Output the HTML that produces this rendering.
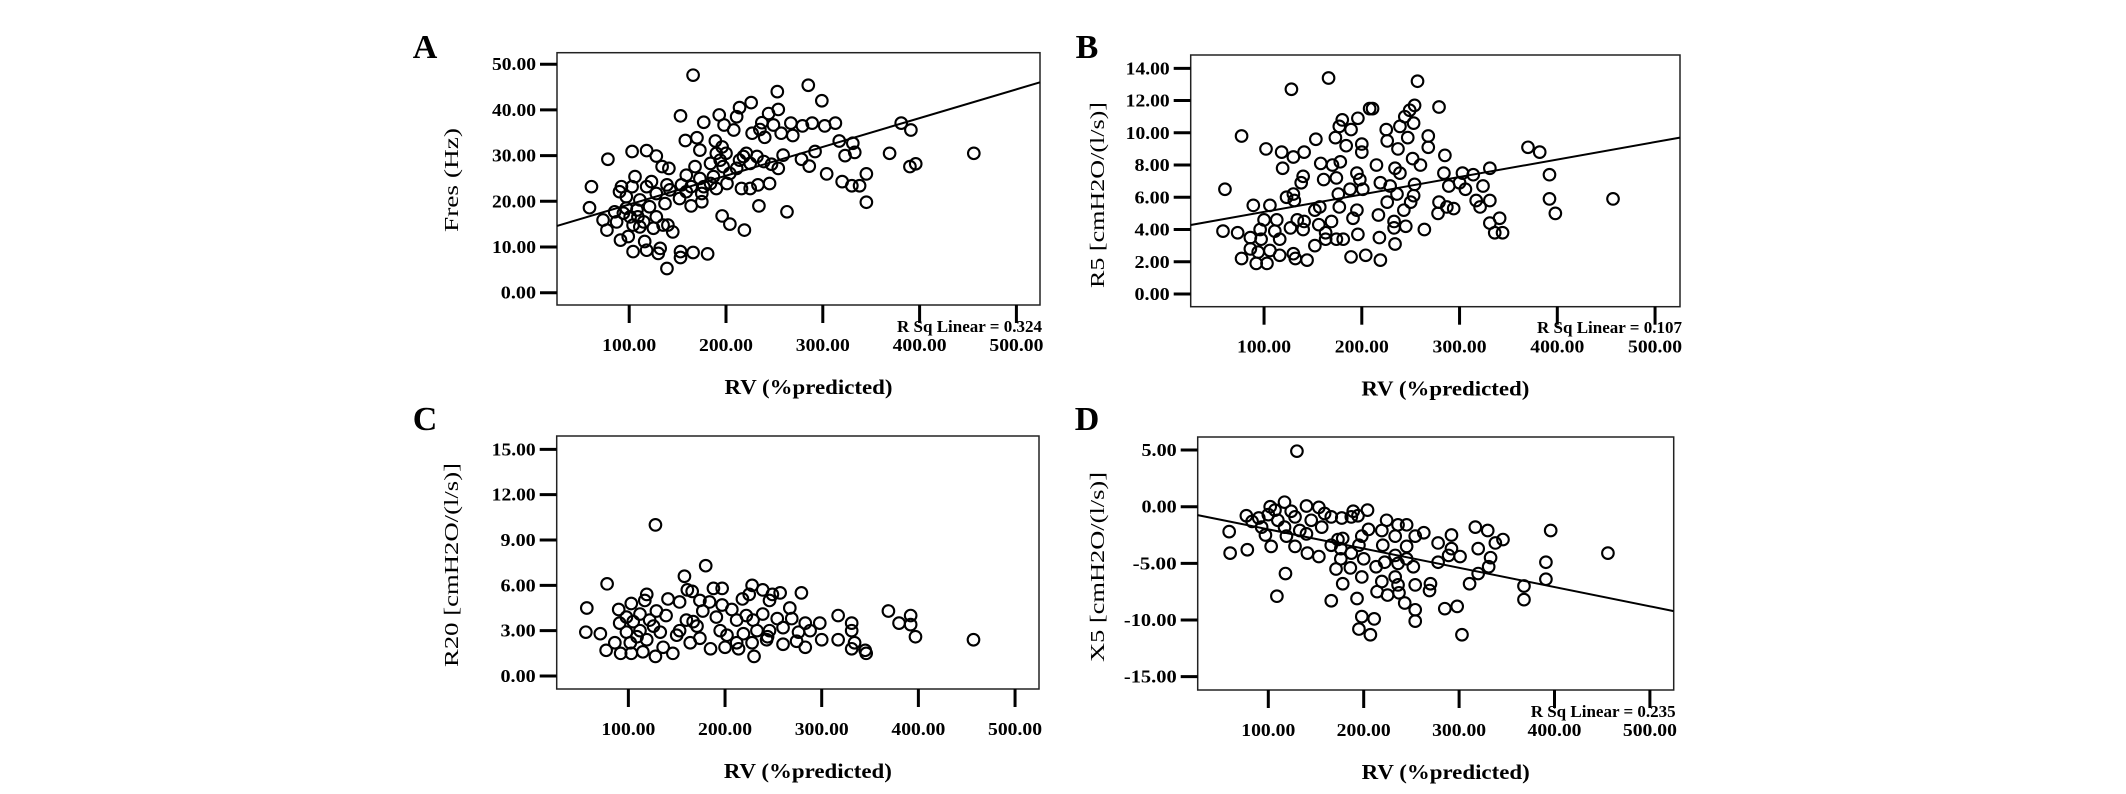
<!DOCTYPE html>
<html><head><meta charset="utf-8"><style>
html,body{margin:0;padding:0;background:#fff;}
svg{display:block;}
text{font-family:"Liberation Serif",serif;font-weight:bold;fill:#000;}
text.yt{font-weight:normal;}
</style></head>
<body>
<svg id="fig" width="2126" height="794" viewBox="0 0 2126 794" xmlns="http://www.w3.org/2000/svg"></svg>
<script>
const xTicks = [100, 200, 300, 400, 500];
const aYTicks = [0, 10, 20, 30, 40, 50];
const bYTicks = [0, 2, 4, 6, 8, 10, 12, 14];
const cYTicks = [0, 3, 6, 9, 12, 15];
const dYTicks = [-15, -10, -5, 0, 5];
const aFit = [13.0, 0.063];
const bFit = [4.01, 0.01083];
const dFit = [-0.30, -0.01698];
const aX = [166,285,253,299,226,214,254,153,193,177,244,211,198,237,249,267,279,289,302,313,381,391,208,227,235,257,269,170,158,189,240,317,331,103,118,78,128,173,196,200,218,232,259,278,292,323,333,369,456,134,141,168,184,197,211,225,239,247,254,286,390,396,106,123,139,159,173,187,201,304,320,345,330,338,61,92,103,118,154,164,177,190,216,225,233,245,90,128,152,175,59,85,97,108,121,137,164,175,234,263,345,73,87,101,115,128,140,196,204,77,104,125,145,219,91,99,116,104,118,132,130,153,153,166,181,139,190,194,214,221,97,111,142,159,184,204,94,109,135,111];
const aY = [47.6,45.4,44.0,42.0,41.6,40.5,40.1,38.7,38.9,37.3,39.2,38.5,36.7,37.2,36.7,37.1,36.5,37.1,36.5,37.1,37.1,35.6,35.6,34.9,35.7,34.9,34.4,33.9,33.3,33.2,34.0,33.2,32.7,30.9,31.1,29.2,29.9,31.2,31.9,30.5,29.8,29.8,30.1,29.2,30.9,30.0,30.7,30.5,30.5,27.6,27.2,27.6,28.3,27.6,27.2,28.3,28.7,28.1,27.2,27.7,27.6,28.2,25.4,24.3,23.6,25.7,25.0,25.4,23.9,26.0,24.3,26.0,23.4,23.4,23.2,23.2,23.2,23.2,23.6,23.2,23.2,22.8,22.8,22.8,23.6,23.9,22.1,21.7,20.6,21.7,18.6,17.7,18.5,18.1,18.8,19.5,19.0,19.9,19.0,17.7,19.8,15.9,15.5,16.6,15.5,16.6,14.8,16.8,15.0,13.7,14.8,14.1,13.3,13.7,11.5,12.3,11.2,9.0,9.3,9.7,8.6,9.0,7.7,8.8,8.5,5.3,30.5,29.0,29.0,30.5,21.0,20.3,22.5,22.1,23.9,26.1,17.4,16.6,14.8,14.4];
const bX = [166,257,128,208,211,254,249,279,180,196,244,177,189,239,253,225,77,173,226,247,268,153,184,200,268,370,382,102,118,130,141,200,237,285,252,119,158,170,178,215,260,392,140,161,195,234,239,284,303,314,331,60,138,174,188,198,219,229,254,289,300,306,324,176,201,236,253,130,123,89,106,131,157,177,226,250,279,317,331,392,457,287,294,321,243,195,152,278,398,100,113,134,141,169,191,217,233,341,58,73,96,111,127,140,156,163,233,245,264,331,336,344,86,97,116,174,181,218,196,86,94,106,130,152,163,234,77,92,103,116,132,144,189,204,219];
const bY = [13.4,13.2,12.7,11.5,11.5,11.7,11.4,11.6,10.8,10.9,11.0,10.4,10.2,10.4,10.6,10.2,9.8,9.7,9.5,9.7,9.8,9.6,9.2,9.3,9.1,9.1,8.8,9.0,8.8,8.5,8.8,8.8,9.0,8.6,8.4,7.8,8.1,8.0,8.2,8.0,8.0,7.4,7.3,7.1,7.5,7.8,7.5,7.5,7.5,7.4,7.8,6.5,6.9,7.2,6.5,7.1,6.9,6.7,6.8,6.7,6.9,6.5,6.7,6.2,6.5,6.2,6.1,6.2,6.0,5.5,5.5,5.8,5.4,5.4,5.7,5.7,5.7,5.8,5.8,5.9,5.9,5.4,5.3,5.4,5.2,5.2,5.2,5.0,5.0,4.6,4.6,4.6,4.5,4.5,4.7,4.9,4.5,4.7,3.9,3.8,4.0,3.9,4.1,4.0,4.3,3.8,4.1,4.2,4.0,4.4,3.8,3.8,3.5,3.4,3.4,3.4,3.4,3.5,3.7,2.8,2.6,2.7,2.5,3.0,3.4,3.1,2.2,1.9,1.9,2.4,2.2,2.1,2.3,2.4,2.1];
const cX = [128,180,158,78,161,166,188,197,228,239,279,119,249,257,57,90,103,117,141,153,174,184,197,218,225,246,267,369,129,139,177,207,222,239,254,269,317,392,91,105,122,160,167,191,212,229,283,298,331,380,392,56,71,98,112,133,150,171,195,202,219,233,246,260,276,288,331,397,86,102,119,136,164,174,185,200,214,228,244,260,274,283,300,317,334,457,77,92,103,115,128,146,230,331,345,346,109,126,153,212,243,98,112];
const cY = [10.0,7.3,6.6,6.1,5.7,5.6,5.8,5.8,6.0,5.7,5.5,5.4,5.4,5.5,4.5,4.4,4.8,5.0,5.1,4.9,5.0,4.9,4.7,5.1,5.4,5.0,4.5,4.3,4.3,4.0,4.3,4.4,4.0,4.1,3.8,3.8,4.0,4.0,3.5,3.6,3.7,3.7,3.6,3.9,3.7,3.7,3.5,3.5,3.5,3.5,3.4,2.9,2.8,2.9,3.0,2.9,2.7,3.3,3.0,2.7,2.8,3.0,3.0,3.2,2.9,3.0,3.0,2.6,2.2,2.2,2.4,1.9,2.2,2.5,1.8,1.9,1.8,2.2,2.6,2.1,2.3,1.9,2.4,2.4,2.2,2.4,1.7,1.5,1.5,1.6,1.3,1.5,1.3,1.8,1.7,1.5,2.6,3.3,3.0,2.2,2.4,3.9,4.1];
const dX = [130,117,102,140,153,204,189,77,90,100,110,128,145,166,177,194,224,236,245,317,330,396,59,93,117,133,156,205,219,263,292,346,338,97,119,140,178,198,233,254,278,60,78,103,128,141,153,166,176,195,220,245,292,301,320,333,456,176,200,233,245,278,289,391,171,186,213,252,331,118,198,233,320,391,178,219,236,254,270,311,368,214,225,237,269,109,166,193,368,243,254,285,298,198,211,195,207,303,254,83,107,124,159,187,173,187,222,236];
const dY = [4.9,0.4,0.0,0.06,-0.06,-0.3,-0.4,-0.8,-1.0,-0.7,-1.2,-0.9,-1.2,-0.9,-1.0,-0.8,-1.2,-1.6,-1.6,-1.8,-2.1,-2.1,-2.2,-1.8,-1.8,-2.1,-1.8,-2.0,-2.1,-2.3,-2.5,-2.9,-3.2,-2.5,-2.6,-2.4,-2.8,-2.6,-2.6,-2.6,-3.2,-4.1,-3.8,-3.5,-3.5,-4.1,-4.4,-3.4,-3.7,-3.4,-3.4,-3.5,-3.7,-4.4,-3.7,-4.5,-4.1,-4.6,-4.6,-4.3,-4.6,-4.9,-4.3,-4.9,-5.5,-5.4,-5.3,-5.3,-5.3,-5.9,-6.2,-6.2,-5.9,-6.4,-6.8,-6.6,-6.9,-6.9,-6.8,-6.8,-7.0,-7.5,-7.8,-7.6,-7.4,-7.9,-8.3,-8.1,-8.2,-8.5,-9.1,-9.0,-8.8,-9.7,-9.9,-10.8,-11.3,-11.3,-10.1,-1.3,-0.3,-0.4,-0.6,-0.9,-2.9,-4.1,-4.9,-5.0];

const NS = "http://www.w3.org/2000/svg";
const svg = document.getElementById('fig');
function mk(tag, attrs, parent) {
  const e = document.createElementNS(NS, tag);
  for (const k in attrs) e.setAttribute(k, attrs[k]);
  (parent || svg).appendChild(e);
  return e;
}
function txt(str, x, y, size, anchor, len, parent) {
  const t = mk('text', {x: x, y: y, 'font-size': size, 'text-anchor': anchor}, parent);
  if (len) { t.setAttribute('textLength', len); t.setAttribute('lengthAdjust', 'spacingAndGlyphs'); }
  t.textContent = str;
  return t;
}

function panel(cfg) {
  const g = mk('g', {});
  
  
  const xs = v => cfg.x0 + cfg.kx * v;
  const ys = v => cfg.y0 - cfg.ky * v;
  const L = cfg.L, T = cfg.T, R = cfg.R, B = cfg.B;
  const lbl = txt(cfg.letter, cfg.lx, cfg.ly, 34, 'middle', null, g);
  
  
  const fr = mk('rect', {x: L, y: T, width: R - L, height: B - T, fill: 'none', stroke: '#222', 'stroke-width': 1.5}, g);
  
  
  cfg.yTicks.forEach(v => {
    const y = ys(v);
    const tk = mk('line', {x1: L - 17, x2: L, y1: y, y2: y, stroke: '#000', 'stroke-width': 3}, g);
    
    
    const s = v.toFixed(2);
    const t = txt(s, L - 21, y + 6, 18, 'end', s.length * 8.8, g);
    
    
  });
  xTicks.forEach(v => {
    const x = xs(v);
    const tk = mk('line', {x1: x, x2: x, y1: B, y2: B + 18, stroke: '#000', 'stroke-width': 3}, g);
    
    
    const t = txt(v.toFixed(2), x, B + 46, 18, 'middle', 54, g);
    
    
  });
  const xt = txt('RV (%predicted)', (L + R) / 2 + 10, B + 89, 21, 'middle', 168, g);
  
  
  const yt = txt(cfg.ytitle, 0, 0, 20, 'middle', cfg.ytLen, g);
  yt.setAttribute('class', 'yt');
  yt.setAttribute('transform', 'translate(' + cfg.ytx + ',' + cfg.yty + ') rotate(-90)');
  
  
  cfg.xd.forEach((xv, i) => {
    const c = mk('circle', {cx: xs(xv), cy: ys(cfg.yd[i]), r: 5.8, fill: 'none', stroke: '#000', 'stroke-width': 2.1}, g);
    
    
  });
  if (cfg.fit) {
    const xa = (L - cfg.x0) / cfg.kx, xb = (R - cfg.x0) / cfg.kx;
    const ln = mk('line', {x1: L, y1: ys(cfg.fit[0] + cfg.fit[1] * xa), x2: R, y2: ys(cfg.fit[0] + cfg.fit[1] * xb), stroke: '#000', 'stroke-width': 2}, g);
    
    
    const r = txt(cfg.rsq, R + 2, cfg.rsqY, 17, 'end', 145, g);
    
    
  }
}

panel({name:'panel-a', letter:'A', lx:425, ly:58, L:557, T:52.7, R:1040, B:305, x0:532.4, kx:0.968, y0:292.7, ky:4.57,
  yTicks:aYTicks, xd:aX, yd:aY, fit:aFit, rsq:'R Sq Linear = 0.324', rsqY:332, ytitle:'Fres (Hz)', ytLen:104, ytx:458, yty:180});
panel({name:'panel-b', letter:'B', lx:1087, ly:58, L:1190.7, T:55, R:1680, B:306.7, x0:1166.3, kx:0.9775, y0:294, ky:16.12,
  yTicks:bYTicks, xd:bX, yd:bY, fit:bFit, rsq:'R Sq Linear = 0.107', rsqY:333, ytitle:'R5 [cmH2O/(l/s)]', ytLen:186, ytx:1104, yty:195});
panel({name:'panel-c', letter:'C', lx:425, ly:430, L:556.7, T:436, R:1039, B:689, x0:531.7, kx:0.9667, y0:676, ky:15.11,
  yTicks:cYTicks, xd:cX, yd:cY, fit:null, ytitle:'R20 [cmH2O/(l/s)]', ytLen:204, ytx:458, yty:565});
panel({name:'panel-d', letter:'D', lx:1087, ly:430, L:1197.7, T:437, R:1673.7, B:690, x0:1172.9, kx:0.954, y0:506.7, ky:11.33,
  yTicks:dYTicks, xd:dX, yd:dY, fit:dFit, rsq:'R Sq Linear = 0.235', rsqY:717, ytitle:'X5 [cmH2O/(l/s)]', ytLen:190, ytx:1104, yty:567});
</script>
</body></html>
